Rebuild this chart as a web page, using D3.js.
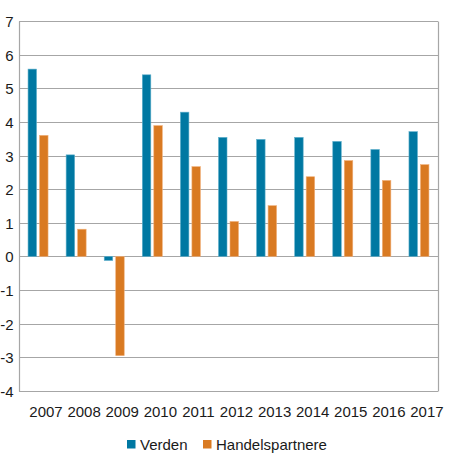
<!DOCTYPE html>
<html>
<head>
<meta charset="utf-8">
<script src="https://cdn.jsdelivr.net/npm/d3@7"></script>
<style>
  body { margin: 0; background: #fff; }
  svg { font-family: "Liberation Sans", Arial, sans-serif; }
</style>
</head>
<body>
<svg width="450" height="468"></svg>
<script>
"use strict";

// data
const years = ["2007", "2008", "2009", "2010", "2011", "2012", "2013", "2014", "2015", "2016", "2017"];
const verden = [5.57, 3.02, -0.12, 5.4, 4.29, 3.54, 3.48, 3.54, 3.42, 3.18, 3.71];
const handelspartnere = [3.6, 0.81, -2.95, 3.89, 2.67, 1.04, 1.51, 2.37, 2.85, 2.26, 2.73];
const seriesNames = ["Verden", "Handelspartnere"];
const yTicks = [-4, -3, -2, -1, 0, 1, 2, 3, 4, 5, 6, 7];

const colors = ["#0078a2", "#d97a22"];
const edge = ["#5fb0cc", "#f0b07a"];

const svg = d3.select("svg");
const plotLeft = 19, plotRight = 438, plotTop = 21, plotBottom = 391;

const x = d3.scaleBand().domain(years).range([plotLeft, plotRight]);
const y = d3.scaleLinear().domain([-4, 7]).range([plotBottom, plotTop]);

/////////////////////////////
// grid and frame
/////////////////////////////
svg.append("g")
  .selectAll("line")
  .data(yTicks)
  .enter()
  .append("line")
  .attr("x1", plotLeft)
  .attr("x2", plotRight)
  .attr("y1", (d) => Math.round(y(d)) + 0.5)
  .attr("y2", (d) => Math.round(y(d)) + 0.5)
  .attr("stroke", "#a6a6a6")
  .attr("stroke-width", 1.2);

[plotLeft, plotRight].forEach((xx) => {
  svg.append("line")
    .attr("x1", xx + 0.5).attr("x2", xx + 0.5)
    .attr("y1", Math.round(y(7)) + 0.5).attr("y2", Math.round(y(-4)) + 0.5)
    .attr("stroke", "#a6a6a6").attr("stroke-width", 1.2);
});

/////////////////////////////
// y labels
/////////////////////////////
svg.append("g")
  .selectAll("text")
  .data(yTicks)
  .enter()
  .append("text")
  .attr("x", 13.5)
  .attr("y", (d) => y(d) + 6)
  .attr("text-anchor", "end")
  .attr("font-size", 15)
  .attr("fill", "#1a1a1a")
  .text((d) => d);

/////////////////////////////
// bars
/////////////////////////////
const barW = 8.5, gap = 3;
[verden, handelspartnere].forEach((vals, i) => {
  svg.append("g")
    .selectAll("rect")
    .data(vals)
    .enter()
    .append("rect")
    .attr("x", (d, j) => {
      const c = x(years[j]) + x.bandwidth() / 2;
      return i === 0 ? c - gap / 2 - barW : c + gap / 2;
    })
    .attr("y", (d) => y(Math.max(0, d)))
    .attr("width", barW)
    .attr("height", (d) => Math.abs(y(d) - y(0)))
    .attr("fill", colors[i])
    .attr("stroke", edge[i])
    .attr("stroke-width", 0.6);
});

/////////////////////////////
// x labels
/////////////////////////////
svg.append("g")
  .selectAll("text")
  .data(years)
  .enter()
  .append("text")
  .attr("x", (d) => x(d) + x.bandwidth() / 2 + 8)
  .attr("y", 417)
  .attr("text-anchor", "middle")
  .attr("font-size", 15)
  .attr("fill", "#1a1a1a")
  .text((d) => d);

/////////////////////////////
// legend
/////////////////////////////
const legendX = [127, 203];
const legend = svg.append("g");
seriesNames.forEach((name, i) => {
  legend.append("rect")
    .attr("x", legendX[i])
    .attr("y", 440)
    .attr("width", 8.5)
    .attr("height", 8.5)
    .attr("fill", colors[i]);
  legend.append("text")
    .attr("x", legendX[i] + 13)
    .attr("y", 449.5)
    .attr("font-size", 15)
    .attr("fill", "#1a1a1a")
    .text(name);
});
</script>
</body>
</html>
